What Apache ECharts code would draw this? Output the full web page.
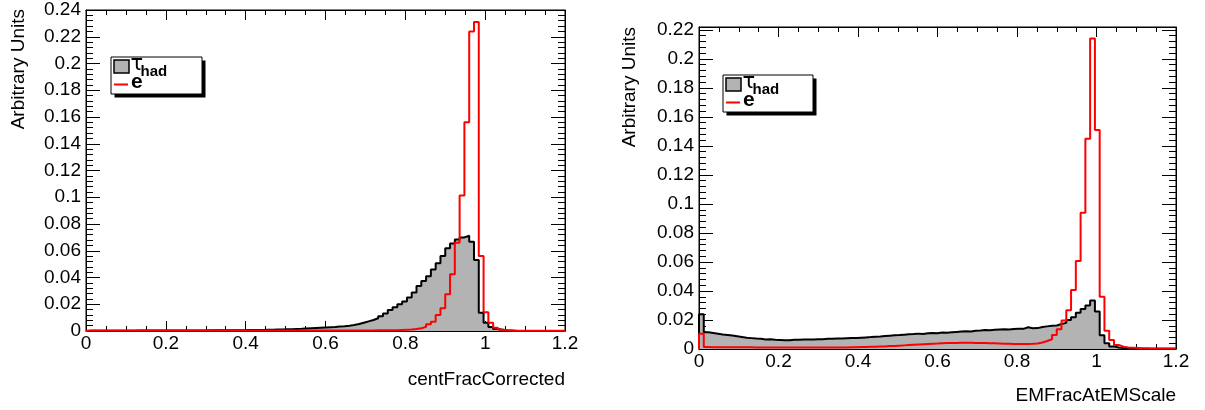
<!DOCTYPE html>
<html><head><meta charset="utf-8">
<script src="https://cdn.jsdelivr.net/npm/echarts@6/dist/echarts.min.js"></script>
<style>html,body{margin:0;padding:0;background:#fff}#c{width:1205px;height:410px}</style>
</head><body><div id="c"></div>
<script>
// ---- data ----
const binWidth = 0.012;           // 100 bins on [0, 1.2]
const xTickStep = 0.2;
const leftYStep = 0.02;
const rightYStep = 0.02;
const leftXTitle = 'centFracCorrected';
const rightXTitle = 'EMFracAtEMScale';
const yTitle = 'Arbitrary Units';

// left panel, tau_had (gray filled)
const leftTau = [
 0.0002,0.0002,0.0002,0.0002,0.0002,0.0002,0.0002,0.0002,0.0002,0.0002,
 0.0003,0.0003,0.0003,0.0003,0.0003,0.0003,0.0003,0.0003,0.0003,0.0003,
 0.0004,0.0004,0.0004,0.0004,0.0004,0.0005,0.0005,0.0005,0.0005,0.0005,
 0.0006,0.0006,0.0006,0.0007,0.0007,0.0008,0.0008,0.0009,0.0010,0.0011,
 0.0012,0.0013,0.0014,0.0015,0.0016,0.0018,0.0020,0.0022,0.0024,0.0026,
 0.0028,0.0030,0.0033,0.0036,0.0040,0.0045,0.0052,0.0062,0.0072,0.0082,
 0.0095,0.0110,0.0130,0.0157,0.0177,0.0200,0.0220,0.0250,0.0287,0.0336,
 0.0374,0.0410,0.0460,0.0506,0.0560,0.0618,0.0655,0.0685,0.0700,0.0712,
 0.0668,0.0530,0.0137,0.0062,0.0030,0.0015,0.0010,0.0005,0.0003,0,
 0,0,0,0,0,0,0,0,0,0
];
// left panel, electrons (red line)
const leftE = [
 0.0003,0.0003,0.0003,0.0003,0.0003,0.0003,0.0003,0.0003,0.0003,0.0003,
 0.0003,0.0003,0.0003,0.0003,0.0003,0.0003,0.0003,0.0003,0.0003,0.0003,
 0.0003,0.0003,0.0003,0.0003,0.0003,0.0003,0.0003,0.0003,0.0003,0.0003,
 0.0003,0.0003,0.0003,0.0003,0.0003,0.0003,0.0003,0.0003,0.0003,0.0003,
 0.0003,0.0003,0.0003,0.0003,0.0003,0.0003,0.0003,0.0003,0.0003,0.0003,
 0.0004,0.0004,0.0004,0.0004,0.0004,0.0004,0.0004,0.0004,0.0004,0.0004,
 0.0005,0.0005,0.0005,0.0005,0.0005,0.0007,0.0009,0.0011,0.0015,0.0020,
 0.0032,0.0050,0.0070,0.0120,0.0170,0.0274,0.0424,0.0660,0.1014,0.1560,
 0.2240,0.2310,0.0560,0.0140,0.0062,0.0025,0.0010,0.0005,0.0002,0.0002,
 0.0002,0.0002,0.0002,0.0002,0.0002,0.0002,0.0002,0.0002,0.0002,0.0002
];
// right panel, tau_had (gray filled)
const rightTau = [
 0.0240,0.0115,0.0110,0.0105,0.0100,0.0097,0.0093,0.0088,0.0083,0.0078,
 0.0075,0.0072,0.0070,0.0066,0.0068,0.0064,0.0062,0.0060,0.0061,0.0063,
 0.0064,0.0065,0.0066,0.0065,0.0067,0.0068,0.0070,0.0071,0.0072,0.0073,
 0.0074,0.0075,0.0076,0.0078,0.0080,0.0082,0.0085,0.0087,0.0090,0.0092,
 0.0094,0.0096,0.0099,0.0102,0.0103,0.0106,0.0104,0.0108,0.0110,0.0108,
 0.0113,0.0112,0.0116,0.0118,0.0120,0.0122,0.0121,0.0126,0.0128,0.0131,
 0.0130,0.0132,0.0134,0.0136,0.0135,0.0138,0.0140,0.0139,0.0150,0.0143,
 0.0144,0.0152,0.0156,0.0160,0.0162,0.0172,0.0180,0.0200,0.0219,0.0250,
 0.0275,0.0300,0.0335,0.0258,0.0095,0.0040,0.0018,0.0010,0.0006,0.0004,
 0.0002,0.0002,0.0002,0.0002,0.0002,0.0002,0.0002,0.0002,0.0002,0.0002
];
// right panel, electrons (red line)
const rightE = [
 0.0105,0.0013,0.0012,0.0012,0.0012,0.0012,0.0012,0.0012,0.0012,0.0012,
 0.0012,0.0011,0.0011,0.0011,0.0011,0.0011,0.0011,0.0011,0.0011,0.0011,
 0.0011,0.0011,0.0011,0.0011,0.0011,0.0011,0.0011,0.0011,0.0011,0.0011,
 0.0011,0.0012,0.0012,0.0013,0.0014,0.0015,0.0016,0.0017,0.0018,0.0020,
 0.0021,0.0023,0.0025,0.0027,0.0029,0.0031,0.0033,0.0035,0.0037,0.0038,
 0.0040,0.0041,0.0042,0.0042,0.0043,0.0043,0.0043,0.0042,0.0042,0.0041,
 0.0040,0.0039,0.0038,0.0037,0.0036,0.0035,0.0035,0.0035,0.0035,0.0036,
 0.0038,0.0045,0.0055,0.0067,0.0097,0.0136,0.0196,0.0268,0.0407,0.0607,
 0.0940,0.1450,0.2140,0.1510,0.0360,0.0125,0.0062,0.0028,0.0016,0.0011,
 0.0009,0.0007,0.0005,0.0005,0.0004,0.0004,0.0004,0.0004,0.0004,0.0004
];

// ---- build ----
function histPoints(vals){
  const pts = [[0, 0]];
  vals.forEach((v,i)=>pts.push([+(i*binWidth).toFixed(4), v]));
  const end = +(vals.length*binWidth).toFixed(4);
  pts.push([end, vals[vals.length-1]]);
  pts.push([end, 0]);
  return pts;
}
const FONT = '"Liberation Sans", Arial, Helvetica, sans-serif';
const fmt = v => String(+(+v).toFixed(3));
const GRAY = '#b3b3b3';

function xAx(grid, pos){
  return {type:'value', gridIndex:grid, position:pos, min:0, max:1.2, interval:xTickStep,
    axisLine:{show:true, onZero:false, lineStyle:{color:'#000', width:1}},
    axisTick:{show:true, inside:true, length:10, lineStyle:{color:'#000', width:1}},
    minorTick:{show:true, splitNumber:4, length:5, lineStyle:{color:'#000', width:1}},
    splitLine:{show:false}, minorSplitLine:{show:false},
    axisLabel:{show:pos==='bottom', margin:3, fontFamily:FONT, fontSize:19, color:'#000', formatter:fmt,
      showMinLabel:true, showMaxLabel:true}};
}
function yAx(grid, pos, max, step){
  return {type:'value', gridIndex:grid, position:pos, min:0, max:max, interval:step,
    axisLine:{show:true, onZero:false, lineStyle:{color:'#000', width:1}},
    axisTick:{show:true, inside:true, length:14, lineStyle:{color:'#000', width:1}},
    minorTick:{show:true, splitNumber:5, length:7, lineStyle:{color:'#000', width:1}},
    splitLine:{show:false}, minorSplitLine:{show:false},
    axisLabel:{show:pos==='left', margin:5, fontFamily:FONT, fontSize:19, color:'#000', formatter:fmt,
      showMinLabel:true, showMaxLabel: Math.abs(max/step - Math.round(max/step))<1e-6}};
}
function histSeries(xi, yi, vals, filled){
  const s = {type:'line', xAxisIndex:xi, yAxisIndex:yi, step:'end', data:histPoints(vals),
    symbol:'none', silent:true, clip:true,
    lineStyle:{color: filled ? '#000' : '#ff0000', width:2},
    z: filled ? 2 : 3};
  if (filled) s.areaStyle = {color:GRAY, opacity:1};
  return s;
}
function legend(bx, by, w){
  return {type:'group', x:bx, y:by, children:[
    {type:'rect', shape:{x:4, y:4, width:w, height:37}, style:{fill:'#000'}},
    {type:'rect', shape:{x:0.5, y:0.5, width:w, height:37}, style:{fill:'#fff', stroke:'#000', lineWidth:1}},
    {type:'rect', shape:{x:3.5, y:3.5, width:15, height:13}, style:{fill:GRAY, stroke:'#000', lineWidth:1.5}},
    {type:'text', style:{text:'τ', x:20, y:8, fontFamily:'"DejaVu Sans", sans-serif', fontSize:21, fill:'#000', align:'left', verticalAlign:'middle'}},
    {type:'text', style:{text:'had', x:30, y:15.5, fontFamily:FONT, fontWeight:'bold', fontSize:15, fill:'#000', align:'left', verticalAlign:'middle'}},
    {type:'line', shape:{x1:3.5, y1:28, x2:17.5, y2:28}, style:{stroke:'#ff0000', lineWidth:2}},
    {type:'text', style:{text:'e', x:20.5, y:26, fontFamily:FONT, fontWeight:'bold', fontSize:21, fill:'#000', align:'left', verticalAlign:'middle'}}
  ]};
}

const chart = echarts.init(document.getElementById('c'), null, {renderer:'canvas'});
chart.setOption({
  animation:false,
  backgroundColor:'#fff',
  grid:[
    {left:86, top:10, width:479, height:321, show:true, borderColor:'#000', borderWidth:1, backgroundColor:'transparent'},
    {left:699, top:27, width:477, height:322, show:true, borderColor:'#000', borderWidth:1, backgroundColor:'transparent'}
  ],
  xAxis:[xAx(0,'bottom'), xAx(0,'top'), xAx(1,'bottom'), xAx(1,'top')],
  yAxis:[yAx(0,'left',0.24,leftYStep), yAx(0,'right',0.24,leftYStep),
         yAx(1,'left',0.222,rightYStep), yAx(1,'right',0.222,rightYStep)],
  series:[
    histSeries(0,0,leftTau,true), histSeries(0,0,leftE,false),
    histSeries(2,2,rightTau,true), histSeries(2,2,rightE,false)
  ],
  graphic:[
    {type:'text', x:19, y:9, rotation:Math.PI/2, style:{text:yTitle, fontFamily:FONT, fontSize:19, fill:'#000', align:'right', verticalAlign:'middle'}},
    {type:'text', x:630, y:27, rotation:Math.PI/2, style:{text:yTitle, fontFamily:FONT, fontSize:19, fill:'#000', align:'right', verticalAlign:'middle'}},
    {type:'text', x:565, y:379.5, style:{text:leftXTitle, fontFamily:FONT, fontSize:19, fill:'#000', align:'right', verticalAlign:'middle'}},
    {type:'text', x:1176, y:395.5, style:{text:rightXTitle, fontFamily:FONT, fontSize:19, fill:'#000', align:'right', verticalAlign:'middle'}},
    legend(110.5, 56.5, 91),
    legend(722.5, 74.5, 90)
  ]
});
</script></body></html>
